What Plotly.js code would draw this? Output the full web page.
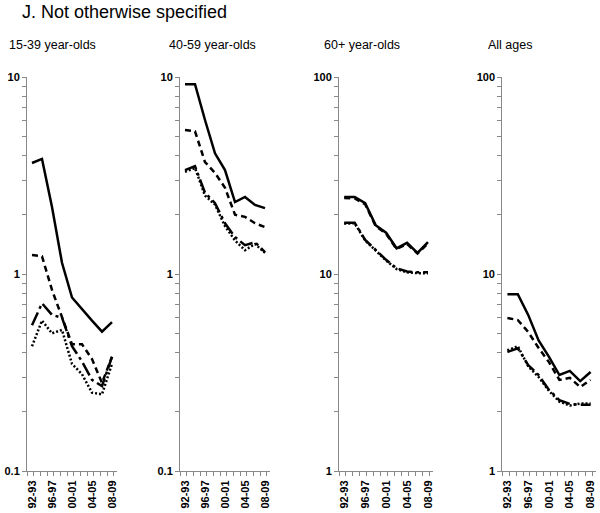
<!DOCTYPE html>
<html><head><meta charset="utf-8">
<script src="https://cdn.plot.ly/plotly-3.0.1.min.js"></script>
<style>body{margin:0;padding:0;background:#fff}#chart{width:600px;height:513px}</style>
</head><body><div id="chart"></div>
<script>
const years = ['92-93','94-95','96-97','98-99','00-01','02-03','04-05','06-07','08-09'];
const tickLabels = ['92-93','96-97','00-01','04-05','08-09'];
const panelTitles = ['15-39 year-olds','40-59 year-olds','60+ year-olds','All ages'];
const mainTitle = 'J. Not otherwise specified';

// Panel 1: 15-39 year-olds
const p1_solid   = [3.66, 3.84, 2.19, 1.14, 0.76, 0.66, 0.58, 0.51, 0.57];
const p1_dash    = [1.25, 1.23, 0.83, 0.60, 0.44, 0.44, 0.37, 0.28, 0.38];
const p1_dashdot = [0.55, 0.71, 0.62, 0.60, 0.43, 0.36, 0.29, 0.27, 0.38];
const p1_dot     = [0.43, 0.58, 0.50, 0.52, 0.35, 0.31, 0.25, 0.245, 0.35];
// Panel 2: 40-59 year-olds
const p2_solid   = [9.2, 9.2, 6.05, 4.1, 3.37, 2.32, 2.46, 2.24, 2.16];
const p2_dash    = [5.38, 5.3, 3.7, 3.26, 2.74, 2.0, 1.95, 1.81, 1.73];
const p2_dashdot = [3.37, 3.53, 2.58, 2.29, 1.81, 1.54, 1.40, 1.45, 1.29];
const p2_dot     = [3.3, 3.45, 2.5, 2.25, 1.75, 1.48, 1.32, 1.42, 1.28];
// Panel 3: 60+ year-olds
const p3_solid   = [24.6, 24.6, 22.9, 17.7, 16.2, 13.5, 14.4, 12.8, 14.5];
const p3_dash    = [24.3, 24.2, 22.6, 17.5, 16.0, 13.4, 14.2, 12.7, 14.3];
const p3_dashdot = [18.2, 18.2, 14.9, 13.2, 11.8, 10.7, 10.3, 10.2, 10.2];
const p3_dot     = [18.0, 18.1, 14.8, 13.1, 11.7, 10.6, 10.2, 10.1, 10.1];
// Panel 4: All ages
const p4_solid   = [7.9, 7.9, 6.2, 4.6, 3.8, 3.07, 3.22, 2.86, 3.18];
const p4_dash    = [5.98, 5.84, 5.08, 4.21, 3.57, 2.9, 2.97, 2.67, 2.9];
const p4_dashdot = [4.02, 4.2, 3.45, 3.07, 2.58, 2.29, 2.19, 2.17, 2.17];
const p4_dot     = [4.1, 4.3, 3.4, 3.0, 2.55, 2.25, 2.15, 2.2, 2.2];

const panels = [
  {series:[p1_solid,p1_dash,p1_dashdot,p1_dot], yrange:[-1,1], ytv:[0.1,1,10], ytt:['0.1','1','10']},
  {series:[p2_solid,p2_dash,p2_dashdot,p2_dot], yrange:[-1,1], ytv:[0.1,1,10], ytt:['0.1','1','10']},
  {series:[p3_solid,p3_dash,p3_dashdot,p3_dot], yrange:[0,2], ytv:[1,10,100], ytt:['1','10','100']},
  {series:[p4_solid,p4_dash,p4_dashdot,p4_dot], yrange:[0,2], ytv:[1,10,100], ytt:['1','10','100']}
];
const dashes = ['solid','6px,4px','14px,4px,3px,4px','2px,2px'];
const widths = [2.5,2.5,2.5,2.5];
const xDomains = [[0.045,0.195],[0.30,0.45],[0.565,0.722],[0.837,0.993]];
const yDomain = [1-471/513, 1-77/513];
const xIdx = years.map((_, i) => i);
const axisColor = '#888888';
const fontFam = 'Liberation Sans, Arial, sans-serif';

const traces = [];
const layout = {
  width:600, height:513, autosize:false,
  margin:{l:0,r:0,t:0,b:0},
  paper_bgcolor:'#fff', plot_bgcolor:'#fff',
  showlegend:false,
  font:{family:fontFam, color:'#000'},
  annotations:[]
};

function logTicks(lo, hi, majors, majorText){
  const vals=[...majors], txt=[...majorText];
  for(let e=lo;e<hi;e++){for(let d=2;d<=9;d++){vals.push(d*Math.pow(10,e)); txt.push('');}}
  return {vals, txt};
}
const xTickPos=[]; for(let k=0;k<=13;k++){xTickPos.push(-0.5+k*(2/3));}

panels.forEach((p, pi) => {
  const n = pi+1;
  const xa = n===1?'x':'x'+n, ya = n===1?'y':'y'+n;
  const ln = n+4, xl = 'x'+ln;
  p.series.forEach((s, si) => {
    traces.push({x:xIdx, y:s, type:'scatter', mode:'lines', xaxis:xa, yaxis:ya,
      line:{color:'#000', width:widths[si], dash:dashes[si]}, hoverinfo:'skip'});
  });
  traces.push({x:xIdx, y:p.series[0], type:'scatter', mode:'lines', xaxis:xl, yaxis:ya,
    line:{color:'rgba(0,0,0,0)', width:0}, hoverinfo:'skip'});
  layout['xaxis'+(n===1?'':n)] = {
    domain:xDomains[pi], anchor:ya, range:[-0.5,8.5], type:'linear',
    tickmode:'array', tickvals:xTickPos, ticktext:xTickPos.map(()=>''),
    ticks:'outside', ticklen:4, tickcolor:axisColor,
    showgrid:false, zeroline:false,
    showline:true, linecolor:axisColor, linewidth:1,
    fixedrange:true
  };
  layout['xaxis'+ln] = {
    domain:xDomains[pi], anchor:ya, overlaying:xa, side:'bottom', range:[-0.5,8.5], type:'linear',
    tickmode:'array', tickvals:tickLabels.map(t=>years.indexOf(t)), ticktext:tickLabels,
    tickangle:-90, ticks:'outside', ticklen:4, tickcolor:'rgba(0,0,0,0)',
    showgrid:false, zeroline:false, showline:false,
    tickfont:{size:11, family:fontFam, color:'#000', weight:'bold'},
    fixedrange:true
  };
  const lt = logTicks(p.yrange[0], p.yrange[1], p.ytv, p.ytt);
  layout['yaxis'+(n===1?'':n)] = {
    domain:yDomain, anchor:xa, type:'log', range:p.yrange,
    tickmode:'array', tickvals:lt.vals, ticktext:lt.txt,
    ticks:'outside', ticklen:4, tickcolor:axisColor,
    showgrid:false, zeroline:false, showline:true, linecolor:axisColor, linewidth:1,
    tickfont:{size:11, family:fontFam, color:'#000', weight:'bold'},
    fixedrange:true
  };
});

layout.annotations.push({text:mainTitle, xref:'paper', yref:'paper', x:20/600, y:1-12/513,
  xanchor:'left', yanchor:'middle', showarrow:false, font:{size:18, family:fontFam, color:'#000'}});
const titleX = [7, 167, 322, 486];
panelTitles.forEach((t, i) => {
  layout.annotations.push({text:t, xref:'paper', yref:'paper', x:titleX[i]/600, y:1-45/513,
    xanchor:'left', yanchor:'middle', showarrow:false, font:{size:12.5, family:fontFam, color:'#000'}});
});

Plotly.newPlot('chart', traces, layout, {staticPlot:true, displayModeBar:false});
</script></body></html>
